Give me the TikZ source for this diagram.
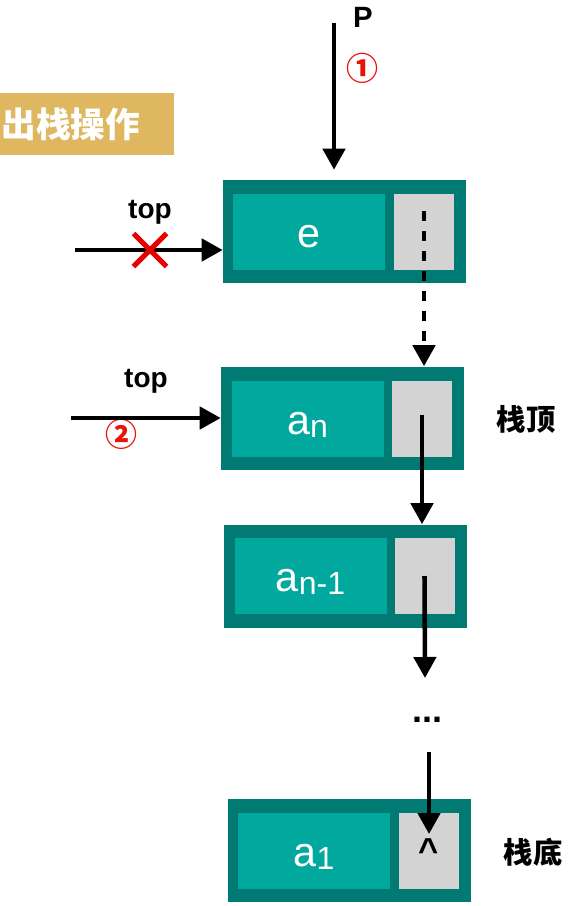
\documentclass[tikz,border=0pt]{standalone}
\usepackage{fontspec}
\setmainfont{Liberation Sans}
\newfontfamily\cjk{Noto Sans CJK SC}
\usetikzlibrary{arrows.meta,shapes.misc}

\tikzset{
  outerbox/.style={fill={rgb, 255:red, 0; green, 122; blue, 115 }, minimum width=182.25pt, minimum height=77.25pt, inner sep=0pt},
  databox/.style={fill={rgb, 255:red, 0; green, 168; blue, 157 }, text=white, minimum width=114pt, minimum height=57pt, inner sep=0pt, text height=22.5pt, text depth=0pt, font=\fontsize{31}{31}\selectfont},
  ptrbox/.style={fill={rgb, 255:red, 211; green, 211; blue, 211 }, minimum width=45pt, minimum height=57pt, inner sep=0pt},
  link/.style={line width=3.4pt, -{Triangle[length=15.75pt,width=16.5pt]}},
  toplabel/.style={inner sep=0pt, font=\fontsize{21}{21}\selectfont\bfseries},
  steplabel/.style={inner sep=0pt, text={rgb, 255:red, 232; green, 20; blue, 10 }, font=\fontsize{24}{24}\selectfont\cjk\bfseries},
  sidelabel/.style={inner sep=0pt, font=\fontsize{22}{22}\selectfont\cjk\bfseries},
}

\begin{document}
\begin{tikzpicture}[x=0.75pt,y=0.75pt,yscale=-1,xscale=1]
\useasboundingbox (0,0) rectangle (586,906);

%Title 
\draw (0,124) node (title) [anchor=west][fill={rgb, 255:red, 222; green, 183; blue, 96 }, text=white, text width=128.5pt, align=left, minimum height=46.5pt, inner xsep=1pt, inner ysep=0pt, font=\fontsize{26}{26}\selectfont\cjk\bfseries] {出栈操作};

%Shape: Node e 
\draw (344.5,231.5) node (eouter) [outerbox] {};
\draw (309,232) node (edata) [databox] {e};
\draw (424,232) node (eptr) [ptrbox] {};
%Shape: Node an 
\draw (342.5,418) node (anouter) [outerbox] {};
\draw (307.5,419) node (andata) [databox] {a{\fontsize{24}{24}\selectfont\raisebox{-2.25pt}{n}}};
\draw (422,419) node (anptr) [ptrbox] {};
%Shape: Node an-1 
\draw (345.5,576) node (an1outer) [outerbox] {};
\draw (310.5,576) node (an1data) [databox] {a{\fontsize{24}{24}\selectfont\raisebox{-2.25pt}{n-1}}};
\draw (424.5,576) node (an1ptr) [ptrbox] {};
%Shape: Node a1 
\draw (349.5,850.5) node (a1outer) [outerbox] {};
\draw (314,851) node (a1data) [databox] {a{\fontsize{24}{24}\selectfont\raisebox{-2.25pt}{1}}};
\draw (429,851) node (a1ptr) [ptrbox] {};

% Text Node
\draw (363,17) node (plabel) [inner sep=0pt, font=\fontsize{22}{22}\selectfont\bfseries] {P};
\draw (362,68) node (step1) [steplabel] {①};
\draw (150,212) node (topold) [toplabel] {top};
\draw (146,381) node (topnew) [toplabel] {top};
\draw (121,434) node (step2) [steplabel] {②};
\draw (526,419) node (toplbl) [sidelabel] {栈顶};
\draw (533,852) node (bottomlbl) [sidelabel] {栈底};
\draw (427,720) node (dots) [inner sep=0pt, font=\fontsize{27}{27}\selectfont\bfseries] {...};
\draw (429,851) node (nullmark) [inner sep=0pt, font=\fontsize{26}{26}\selectfont\bfseries] {\textasciicircum};

%Straight Lines 
\coordinate (pstart) at (334,23);
\draw [link, shorten >=7.5pt] (pstart) -- (pstart |- eouter.north);
\coordinate (oldstart) at (75,250);
\draw [link] (oldstart) -- (oldstart -| eouter.west);
\coordinate (newstart) at (71,418);
\draw [link] (newstart) -- (newstart -| anouter.west);
\draw [link, dash pattern={on 7.5pt off 7.5pt}] ([yshift=-15.75pt]eptr.center) -- (eptr.center |- anouter.north);
\draw [link] ([yshift=-3pt]anptr.center) -- (anptr.center |- an1outer.north);
\coordinate (gapend) at (425,678);
\draw [link] (an1ptr.center) -- (gapend);
\coordinate (gapstart) at (429,752);
\draw [link, shorten >=12.75pt] (gapstart) -- (gapstart |- a1ptr.center);

%Cross 
\draw (150,250) node (cross) [cross out, draw={rgb, 255:red, 230; green, 0; blue, 0 }, line width=3.75pt, minimum size=21pt, inner sep=0pt] {};

\end{tikzpicture}
\end{document}
